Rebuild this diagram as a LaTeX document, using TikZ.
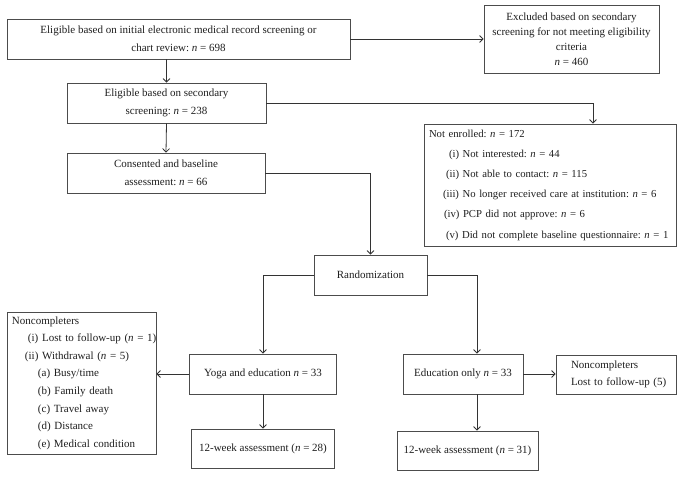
\documentclass[tikz,border=0pt]{standalone}
\usepackage{fontspec}
\setmainfont{Liberation Serif}
\usetikzlibrary{arrows.meta,calc}
\frenchspacing
\begin{document}
\begin{tikzpicture}[x=1pt,y=-1pt,
  box/.style={draw=black!70, line width=0.8pt, inner sep=0pt, align=center,
    font=\fontsize{11}{17.5}\selectfont, text=black!88},
  listbox/.style={box, align=left, inner xsep=5pt},
  arr/.style={draw=black!80, line width=0.8pt, -{Straight Barb[length=3.5pt,width=7pt]}},
  ln/.style={draw=black!80, line width=0.8pt}]
\useasboundingbox (0,0) rectangle (683,479);
\fill[white] (0,0) rectangle (683,479);

\node[box, minimum width=343, minimum height=40] (e1) at (178.5,39)
  {Eligible based on initial electronic medical record screening or\\ chart review: \textit{n} = 698};
\node[box, minimum width=175, minimum height=68, font=\fontsize{11}{15}\selectfont] (exc) at (571.5,39)
  {Excluded based on secondary\\ screening for not meeting eligibility\\ criteria\\ \textit{n} = 460};
\node[box, minimum width=199, minimum height=40] (e2) at (166.5,103)
  {Eligible based on secondary\\ screening: \textit{n} = 238};
\node[listbox, minimum width=252, minimum height=122, text width=242, font=\fontsize{10.7}{20.2}\selectfont] (ne) at (550,185)
  {\mbox{Not enrolled: \textit{n} = 172}\\
   \mbox{\hspace*{20pt}(i) Not interested: \textit{n} = 44}\\
   \mbox{\hspace*{17pt}(ii) Not able to contact: \textit{n} = 115}\\
   \mbox{\hspace*{14pt}(iii) No longer received care at institution: \textit{n} = 6}\\
   \mbox{\hspace*{15pt}(iv) PCP did not approve: \textit{n} = 6}\\
   \mbox{\hspace*{17pt}(v) Did not complete baseline questionnaire: \textit{n} = 1}};
\node[box, minimum width=198, minimum height=40] (cons) at (166,173)
  {Consented and baseline\\ assessment: \textit{n} = 66};
\node[box, minimum width=113, minimum height=40] (rand) at (370.5,275) {Randomization};
\node[box, minimum width=147, minimum height=40] (yoga) at (263,374)
  {Yoga and education \textit{n} = 33};
\node[box, minimum width=120, minimum height=40] (edu) at (463,374)
  {Education only \textit{n} = 33};
\node[listbox, minimum width=149, minimum height=142, text width=139, font=\fontsize{11}{17.6}\selectfont] (ncl) at (81.5,383)
  {\mbox{Noncompleters}\\
   \mbox{\hspace*{16pt}(i) Lost to follow-up (\textit{n} = 1)}\\
   \mbox{\hspace*{13pt}(ii) Withdrawal (\textit{n} = 5)}\\
   \mbox{\hspace*{26pt}(a) Busy/time}\\
   \mbox{\hspace*{26pt}(b) Family death}\\
   \mbox{\hspace*{26pt}(c) Travel away}\\
   \mbox{\hspace*{26pt}(d) Distance}\\
   \mbox{\hspace*{26pt}(e) Medical condition}};
\node[listbox, inner xsep=15pt, minimum width=120, minimum height=39, text width=90] (ncr) at (616,374.5)
  {\mbox{Noncompleters}\\ \mbox{Lost to follow-up (5)}};
\node[box, minimum width=143, minimum height=39] (w28) at (263,448.5)
  {12-week assessment (\textit{n} = 28)};
\node[box, minimum width=141, minimum height=39] (w31) at (467.5,450.5)
  {12-week assessment (\textit{n} = 31)};

\coordinate (ncol) at (593,0);
\coordinate (ecol) at (477,0);

\draw[arr] (e1.east) -- (exc.west);
\draw[arr] (e1.south -| e2.north) -- (e2.north);
\draw[arr] (e2.south) -- (cons.north);
\draw[arr] (e2.east) -| (ncol |- ne.north);
\draw[arr] (cons.east) -| (rand.north);
\draw[arr] (rand.west) -| (yoga.north);
\draw[arr] (rand.east) -| (ecol |- edu.north);
\draw[arr] (yoga.west) -- (yoga.west -| ncl.east);
\draw[arr] (edu.east) -- (edu.east -| ncr.west);
\draw[arr] (yoga.south) -- (w28.north);
\draw[arr] (ecol |- edu.south) -- (ecol |- w31.north);
\end{tikzpicture}
\end{document}
